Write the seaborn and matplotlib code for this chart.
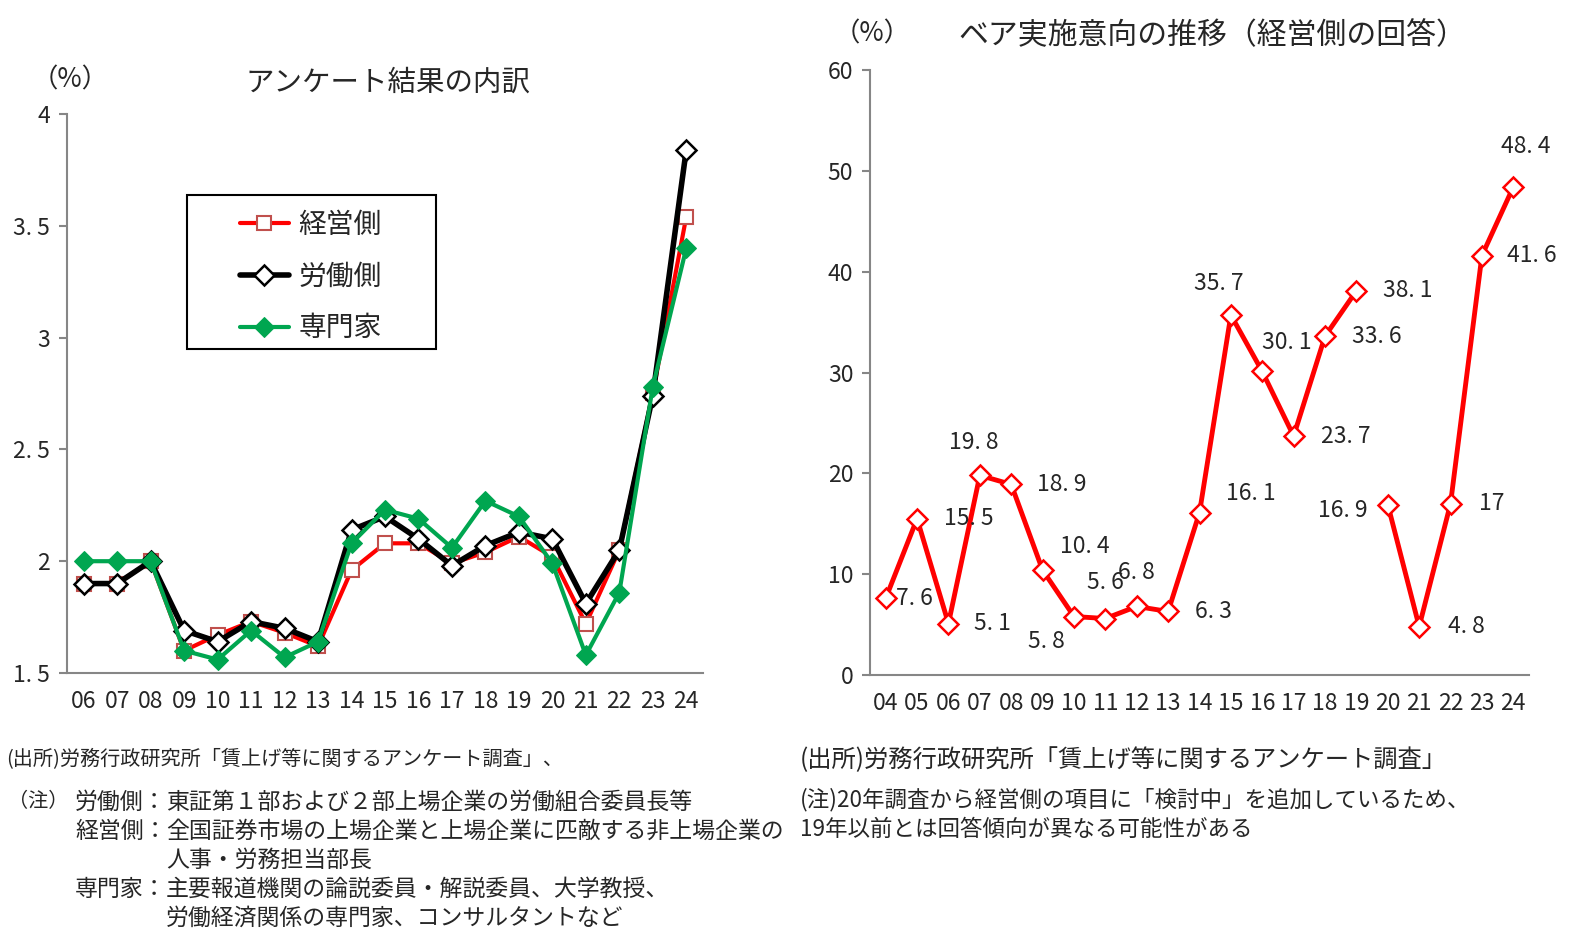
import numpy as np
import pandas as pd
import matplotlib
matplotlib.use("Agg")
import matplotlib.pyplot as plt
import matplotlib.patches as mpatches
import seaborn as sns

sns.set_style("white")
plt.rcParams["font.family"] = ["Noto Sans CJK JP", "DejaVu Sans"]

# left chart: アンケート結果の内訳
years_l = ["06", "07", "08", "09", "10", "11", "12", "13", "14", "15",
           "16", "17", "18", "19", "20", "21", "22", "23", "24"]
keiei = [1.90, 1.90, 2.00, 1.60, 1.67, 1.73, 1.68, 1.62, 1.96, 2.08,
         2.08, 1.99, 2.04, 2.11, 2.02, 1.72, 2.05, 2.75, 3.54]
roudou = [1.90, 1.90, 2.00, 1.69, 1.64, 1.73, 1.70, 1.64, 2.14, 2.20,
          2.10, 1.98, 2.07, 2.13, 2.10, 1.81, 2.05, 2.74, 3.84]
senmon = [2.00, 2.00, 2.00, 1.60, 1.56, 1.69, 1.57, 1.64, 2.08, 2.23,
          2.19, 2.06, 2.27, 2.20, 1.99, 1.58, 1.86, 2.78, 3.40]

# right chart: ベア実施意向の推移（経営側の回答）
years_r = ["04", "05", "06", "07", "08", "09", "10", "11", "12", "13",
           "14", "15", "16", "17", "18", "19", "20", "21", "22", "23", "24"]
bea = [7.6, 15.5, 5.1, 19.8, 18.9, 10.4, 5.8, 5.6, 6.8, 6.3,
       16.1, 35.7, 30.1, 23.7, 33.6, 38.1, 16.9, 4.8, 17, 41.6, 48.4]
first_new = years_r.index("20")  # survey changed from 2020

W, H = 1569, 935
fig = plt.figure(figsize=(W / 100, H / 100), dpi=100)


def box(x0, y0, x1, y1):
    return [x0 / W, 1 - y1 / H, (x1 - x0) / W, (y1 - y0) / H]


def fxy(x, y):
    return x / W, 1 - y / H


axis_gray = "#868686"
red = "#FF0000"
green = "#00A650"


def style_axes(ax, n):
    for s in ["top", "right"]:
        ax.spines[s].set_visible(False)
    for s in ["left", "bottom"]:
        ax.spines[s].set_color(axis_gray)
        ax.spines[s].set_linewidth(1.5)
    ax.set_xlim(-0.5, n - 0.5)
    ax.set_xticks(range(n))
    ax.set_xticks(np.arange(-0.5, n, 1.0), minor=True)
    ax.tick_params(axis="x", which="major", length=0, labelsize=16.5, pad=12)
    ax.tick_params(axis="x", which="minor", length=7, width=1.5,
                   color=axis_gray, direction="out")
    ax.tick_params(axis="y", length=6, width=1.5, color=axis_gray,
                   direction="out", labelsize=16.5, left=True, pad=6)
    ax.set_xlabel("")
    ax.set_ylabel("")
    ax.grid(False)


# ---------- left ----------
axl = fig.add_axes(box(67, 114, 703, 673))
xl = np.arange(len(years_l))
sns.lineplot(x=xl, y=keiei, ax=axl, color=red, lw=3, marker="s",
             markersize=10, markerfacecolor="white", markeredgecolor="#C0504D",
             markeredgewidth=1.5, label="経営側")
sns.lineplot(x=xl, y=roudou, ax=axl, color="black", lw=4, marker="D",
             markersize=10, markerfacecolor="white", markeredgecolor="black",
             markeredgewidth=1.8, label="労働側")
sns.lineplot(x=xl, y=senmon, ax=axl, color=green, lw=3, marker="D",
             markersize=10, markerfacecolor=green, markeredgecolor=green,
             label="専門家")
style_axes(axl, len(years_l))
axl.set_xticklabels(years_l)
axl.set_ylim(1.5, 4)
axl.set_yticks([1.5, 2, 2.5, 3, 3.5, 4])
axl.set_yticklabels(["1. 5", "2", "2. 5", "3", "3. 5", "4"])

# legend frame drawn separately (wide side margins as in the original)
axl.add_patch(mpatches.Rectangle((0.1887, 0.5796), 0.3915, 0.2755,
                                 transform=axl.transAxes, fill=True,
                                 facecolor="white", edgecolor="black",
                                 lw=1.5, zorder=4))
leg = axl.legend(loc="center left", bbox_to_anchor=(0.272, 0.709),
                 frameon=False, fontsize=20, handlelength=1.75,
                 labelspacing=0.78, borderpad=0, handletextpad=0.35,
                 borderaxespad=0)
leg.set_zorder(5)

fig.text(*fxy(70, 80), "（%）", fontsize=19, ha="center", va="center")
fig.text(*fxy(388, 83), "アンケート結果の内訳", fontsize=20.5,
         ha="center", va="center")

# ---------- right ----------
axr = fig.add_axes(box(870, 70, 1529, 675))
xr = np.arange(len(years_r))
for sl in [slice(0, first_new), slice(first_new, None)]:
    sns.lineplot(x=xr[sl], y=bea[sl], ax=axr, color=red, lw=3.5, marker="D",
                 markersize=10.5, markerfacecolor="white", markeredgecolor=red,
                 markeredgewidth=1.8)
style_axes(axr, len(years_r))
axr.set_xticklabels(years_r)
axr.set_ylim(0, 60)
axr.set_yticks(range(0, 61, 10))

# label offsets in pixels (dx, dy up)
offs = [(29, 0), (52, 0), (44, 0), (-6, 33), (51, 0), (42, 24), (-28, -25),
        (0, 36), (0, 34), (45, 0), (51, 19), (-12, 32), (25, 29), (52, 0),
        (52, 0), (51, 0), (-45, -6), (47, 0), (41, 0), (50, 0), (12, 40)]
for i, v in enumerate(bea):
    axr.annotate(f"{v:g}".replace(".", ". "), (i, v), xytext=offs[i],
                 textcoords="offset pixels", ha="center", va="center",
                 fontsize=16.5)

fig.text(*fxy(872, 34), "（%）", fontsize=19, ha="center", va="center")
fig.text(*fxy(1212, 36), "ベア実施意向の推移（経営側の回答）", fontsize=21.5,
         ha="center", va="center")

# ---------- notes ----------
fig.text(*fxy(6, 760), "(出所)労務行政研究所「賃上げ等に関するアンケート調査」、",
         fontsize=14.5, va="center")
nfs = 16.5
fig.text(*fxy(8, 802), "（注）", fontsize=14.5, va="center")
rows = [("労働側：", "東証第１部および２部上場企業の労働組合委員長等"),
        ("経営側：", "全国証券市場の上場企業と上場企業に匹敵する非上場企業の"),
        ("", "人事・労務担当部長"),
        ("専門家：", "主要報道機関の論説委員・解説委員、大学教授、"),
        ("", "労働経済関係の専門家、コンサルタントなど")]
for k, (a, b) in enumerate(rows):
    y = 802 + 29 * k
    if a:
        fig.text(*fxy(75, y), a, fontsize=nfs, va="center")
    fig.text(*fxy(166, y), b, fontsize=nfs, va="center")

fig.text(*fxy(800, 760), "(出所)労務行政研究所「賃上げ等に関するアンケート調査」",
         fontsize=17.5, va="center")
fig.text(*fxy(800, 800), "(注)20年調査から経営側の項目に「検討中」を追加しているため、",
         fontsize=16.2, va="center")
fig.text(*fxy(800, 829), "19年以前とは回答傾向が異なる可能性がある",
         fontsize=16.2, va="center")

fig.savefig("out.png", dpi=100)
